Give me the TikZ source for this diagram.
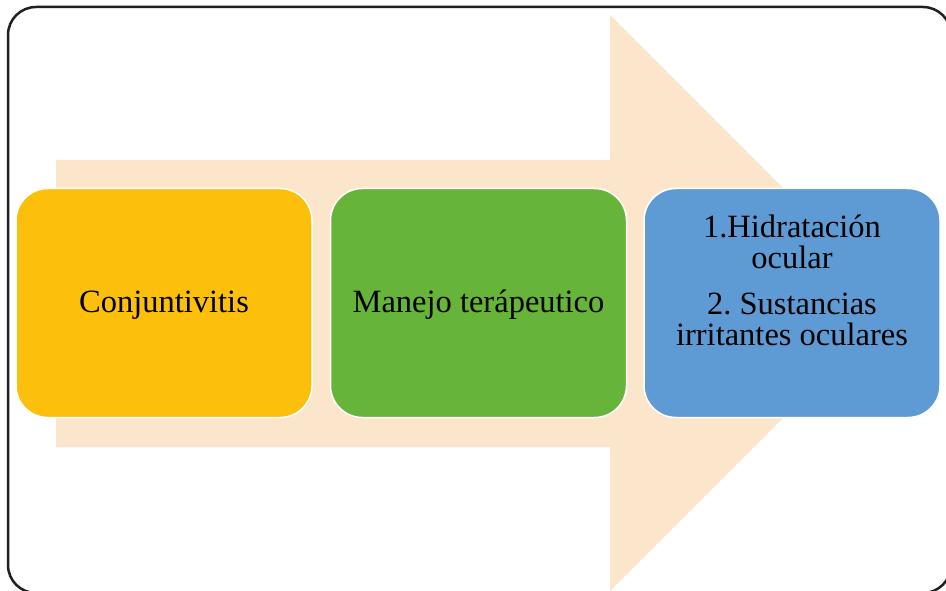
\documentclass[tikz,border=0pt]{standalone}
\usepackage{fontspec}
\setmainfont{Liberation Serif}
\frenchspacing
\definecolor{frame}{HTML}{231F20}
\definecolor{peach}{HTML}{FCE6CB}
\definecolor{boxgold}{HTML}{FBBF0C}
\definecolor{boxgreen}{HTML}{67B43B}
\definecolor{boxblue}{HTML}{5E9BD4}
\tikzset{
  stagefont/.style={text=black, font=\fontsize{32.5}{31}\selectfont},
  stage/.style={draw=white, line width=1.5pt, rounded corners=32pt,
    minimum width=296pt, minimum height=229pt, inner sep=0pt,
    align=center, stagefont},
}
\begin{document}
\begin{tikzpicture}[x=1pt, y=-1pt]
  \useasboundingbox (0,0) rectangle (946,591);
  % outer frame (runs past the page on the right and bottom)
  \draw[frame, line width=2.5pt, rounded corners=28pt] (8,7) rectangle (951,593);
  % large background arrow
  \fill[peach] (56,160) -- (610,160) -- (610,15) -- (898,303)
    -- (610,591) -- (610,447) -- (56,447) -- cycle;
  % stages
  \node[stage, fill=boxgold]  (conj)  at (164,303) {};
  \node[stage, fill=boxgreen] (manejo) at (478.5,303) {};
  \node[stage, fill=boxblue]  (acciones) at (792,303) {};
  % stage labels, set on their baselines
  \node[stagefont, anchor=base, inner sep=0pt] (conjtexto) at (164,312) {Conjuntivitis};
  \node[stagefont, anchor=base, inner sep=0pt] (manejotexto) at (478.5,312) {Manejo terápeutico};
  \node[stagefont, align=center, inner sep=0pt] (accionestexto) at (792,280)
    {1.Hidratación\\ocular\\[15pt]2. Sustancias\\irritantes oculares};
\end{tikzpicture}
\end{document}
